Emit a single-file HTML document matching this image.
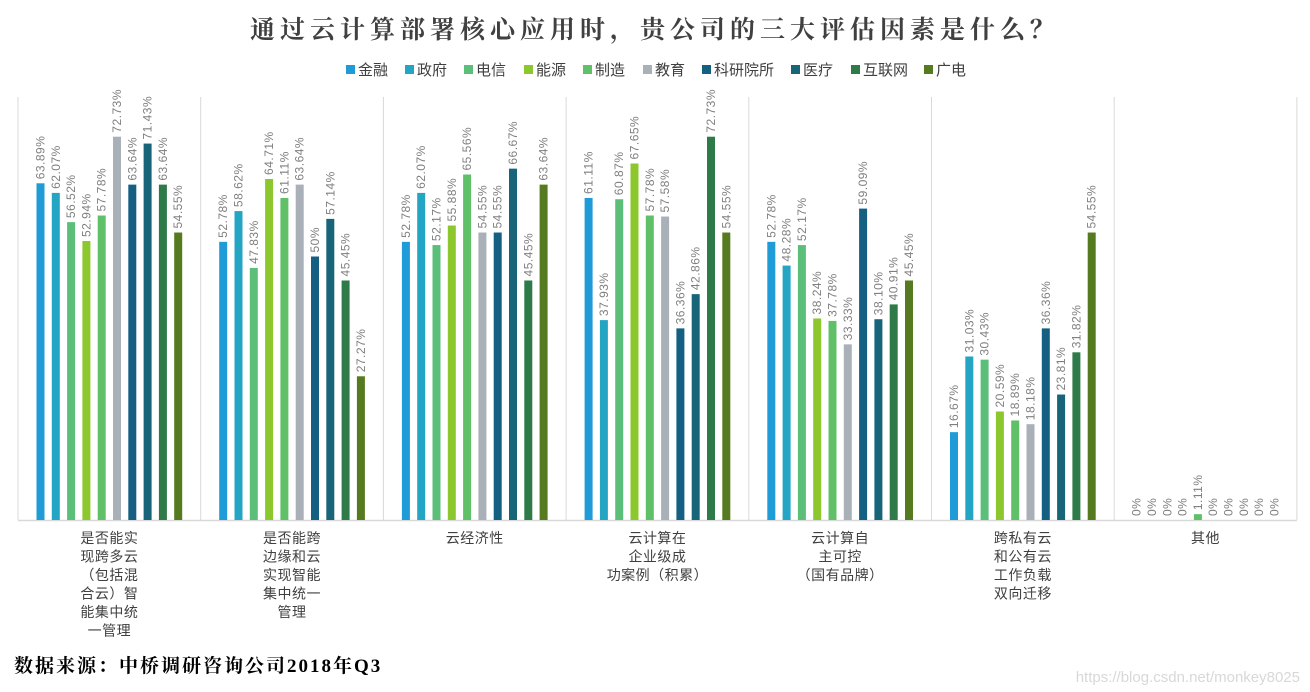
<!DOCTYPE html>
<html><head><meta charset="utf-8">
<style>
body{margin:0;background:#fff;}
svg{display:block;font-family:"Liberation Sans","Noto Sans CJK SC",sans-serif;}
</style></head>
<body>
<svg id="chart" width="1310" height="692" viewBox="0 0 1310 692" xmlns="http://www.w3.org/2000/svg">
<text x="655" y="38" text-anchor="middle" font-family="'Liberation Serif','Noto Serif CJK SC',serif" font-weight="bold" font-size="25" fill="#404040" letter-spacing="5">通过云计算部署核心应用时，贵公司的三大评估因素是什么？</text>
<g id="legend"></g>
<g id="grid"></g>
<g id="bars"></g>
<g id="cats"></g>
<text x="14" y="672" font-family="'Liberation Serif','Noto Serif CJK SC',serif" font-weight="bold" font-size="19" fill="#000" letter-spacing="2">数据来源：中桥调研咨询公司2018年Q3</text>
<text x="1300" y="682" text-anchor="end" font-size="15" fill="#d8d8d8">https://blog.csdn.net/monkey8025</text>
</svg>
<script>
const series = ["金融","政府","电信","能源","制造","教育","科研院所","医疗","互联网","广电"];
const colors = ["#1f9bd7","#25a5c4","#5bbf7a","#8cc82d","#60c068","#a9b0b8","#145f82","#18657a","#2e7a48","#567a1f"];
const categories = [
 ["是否能实","现跨多云","（包括混","合云）智","能集中统","一管理"],
 ["是否能跨","边缘和云","实现智能","集中统一","管理"],
 ["云经济性"],
 ["云计算在","企业级成","功案例（积累）"],
 ["云计算自","主可控","（国有品牌）"],
 ["跨私有云","和公有云","工作负载","双向迁移"],
 ["其他"]
];
const g1 = [63.89,62.07,56.52,52.94,57.78,72.73,63.64,71.43,63.64,54.55];
const g2 = [52.78,58.62,47.83,64.71,61.11,63.64,50,57.14,45.45,27.27];
const g3 = [52.78,62.07,52.17,55.88,65.56,54.55,54.55,66.67,45.45,63.64];
const g4 = [61.11,37.93,60.87,67.65,57.78,57.58,36.36,42.86,72.73,54.55];
const g5 = [52.78,48.28,52.17,38.24,37.78,33.33,59.09,38.10,40.91,45.45];
const g6 = [16.67,31.03,30.43,20.59,18.89,18.18,36.36,23.81,31.82,54.55];
const g7 = [0,0,0,0,1.11,0,0,0,0,0];
const groups = [g1,g2,g3,g4,g5,g6,g7];

const NS="http://www.w3.org/2000/svg";
const x0=18, gw=182.7, baseY=520, pxPer=5.27, step=15.3, bw=8;
function yS(v){return baseY - v*pxPer;}
function xS(gi,si){return x0 + gi*gw + gw/2 + (si-4.5)*step;}
function mk(tag,attrs,parent){const e=document.createElementNS(NS,tag);for(const k in attrs)e.setAttribute(k,attrs[k]);parent.appendChild(e);return e;}
function fmt(v){return v===0?"0%":(v%1===0?v+"%":v.toFixed(2)+"%");}

const legend=document.getElementById('legend');
const legX=[346,405,464,524,583,643,702,791,851,924];
series.forEach((s,i)=>{
  const g=mk('g',{},legend);
  
  
  mk('rect',{x:legX[i],y:65,width:9,height:9,fill:colors[i]},g);
  const t=mk('text',{x:legX[i]+12,y:75,'font-size':15,fill:'#404040'},g);
  t.textContent=s;
});

const grid=document.getElementById('grid');
const base=mk('line',{x1:x0,x2:x0+7*gw,y1:baseY+0.5,y2:baseY+0.5,stroke:'#d9d9d9','stroke-width':1.5},grid);


for(let i=0;i<=7;i++){
  const l=mk('line',{x1:x0+i*gw,x2:x0+i*gw,y1:97,y2:baseY,stroke:'#d9d9d9','stroke-width':1},grid);
  
  
}

const bars=document.getElementById('bars');
groups.forEach((vals,gi)=>{
  vals.forEach((v,si)=>{
    const cx=xS(gi,si), y=yS(v);
    const r=mk('rect',{x:cx-bw/2,y:y,width:bw,height:baseY-y,fill:colors[si]},bars);
    
    
    const t=mk('text',{x:0,y:0,transform:`translate(${cx+4},${y-4}) rotate(-90)`,'font-size':12,fill:'#7f7f7f','letter-spacing':'0.5'},bars);
    
    
    t.textContent=fmt(v);
  });
});

const cats=document.getElementById('cats');
categories.forEach((lines,gi)=>{
  const cx=x0+gi*gw+gw/2;
  lines.forEach((ln,li)=>{
    const t=mk('text',{x:cx,y:543+li*18.5,'text-anchor':'middle','font-size':14,fill:'#404040','letter-spacing':'0.5'},cats);
    
    
    t.textContent=ln;
  });
});
</script>
</body></html>
